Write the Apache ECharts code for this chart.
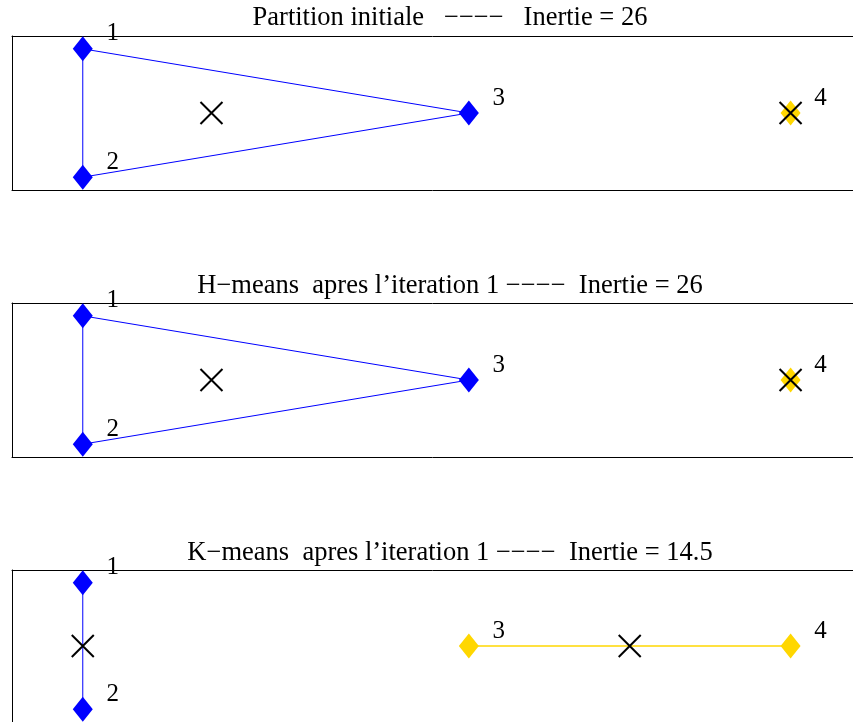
<!DOCTYPE html>
<html>
<head>
<meta charset="utf-8">
<script src="https://cdn.jsdelivr.net/npm/echarts@6/dist/echarts.min.js"></script>
<style>
html,body{margin:0;padding:0;background:#fff;}
#chart{width:853px;height:722px;}
</style>
</head>
<body>
<div id="chart"></div>
<script>
// ---- data ----
const pointX = [0, 0, 6, 11];
const pointY = [1, -1, 0, 0];
const pointLabels = ['1', '2', '3', '4'];
const panelTitles = [
  'Partition initiale\u00A0\u00A0\u00A0\u2212\u2212\u2212\u2212\u00A0\u00A0\u00A0Inertie = 26',
  'H\u2212means\u00A0\u00A0apres l\u2019iteration 1 \u2212\u2212\u2212\u2212\u00A0\u00A0Inertie = 26',
  'K\u2212means\u00A0\u00A0apres l\u2019iteration 1 \u2212\u2212\u2212\u2212\u00A0\u00A0Inertie = 14.5'
];
// cluster index of each point, per panel
const panelClusters = [
  [0, 0, 0, 1],
  [0, 0, 0, 1],
  [0, 0, 1, 1]
];
// edges (point indices) drawn per panel
const panelEdges = [
  [[0, 2], [2, 1], [1, 0]],
  [[0, 2], [2, 1], [1, 0]],
  [[0, 1], [2, 3]]
];
// centroids per panel
const centroidX = [[2, 11], [2, 11], [0, 8.5]];
const centroidY = [[0, 0], [0, 0], [0, 0]];
const clusterColors = ['#0000FF', '#FFD700'];

// ---- layout ----
const gridTops = [36, 303, 570];
const gridHeight = 154;
const titleY = [18, 286, 553];
const font = '"Liberation Serif", "Times New Roman", serif';
const xMin = -1.1, xMax = 11.97, yMin = -1.2, yMax = 1.2;

const hiddenParts = {axisTick: {show: false}, axisLabel: {show: false}, splitLine: {show: false}};
const border = {show: true, onZero: false, lineStyle: {color: '#000', width: 1}};

const grids = [], xAxes = [], yAxes = [], series = [], graphics = [];
gridTops.forEach((top, p) => {
  grids.push({left: 12, right: 0, top: top, height: gridHeight, show: false});
  xAxes.push(Object.assign({type: 'value', gridIndex: p, min: xMin, max: xMax, position: 'bottom', axisLine: border}, hiddenParts));
  xAxes.push(Object.assign({type: 'value', gridIndex: p, min: xMin, max: xMax, position: 'top', axisLine: border}, hiddenParts));
  yAxes.push(Object.assign({type: 'value', gridIndex: p, min: yMin, max: yMax, position: 'left', axisLine: border}, hiddenParts));
  graphics.push({type: 'text', x: 450, y: titleY[p],
    style: {text: panelTitles[p], font: '26.5px ' + font, fill: '#000',
      align: 'center', verticalAlign: 'middle', textAlign: 'center', textVerticalAlign: 'middle'}});
  const xi = 2 * p;
  panelEdges[p].forEach(e => {
    const c = panelClusters[p][e[0]];
    series.push({type: 'line', xAxisIndex: xi, yAxisIndex: p, symbol: 'none', silent: true,
      animation: false, z: 2,
      lineStyle: {color: clusterColors[c], width: c === 1 ? 1.5 : 1, opacity: 1},
      data: [[pointX[e[0]], pointY[e[0]]], [pointX[e[1]], pointY[e[1]]]]});
  });
  series.push({type: 'scatter', xAxisIndex: xi, yAxisIndex: p, symbol: 'diamond',
    symbolSize: [20, 25], animation: false, z: 3, clip: false,
    data: pointX.map((x, i) => ({
      value: [x, pointY[i]], name: pointLabels[i],
      itemStyle: {color: clusterColors[panelClusters[p][i]], opacity: 1}
    })),
    label: {show: true, formatter: '{b}', position: 'inside', offset: [30, -15],
      fontFamily: font, fontSize: 25, color: '#000'}
  });
  series.push({type: 'scatter', xAxisIndex: xi, yAxisIndex: p,
    symbol: 'path://M0,0L10,10M10,0L0,10', symbolSize: 22, animation: false, z: 4, clip: false,
    itemStyle: {color: 'none', borderColor: '#000', borderWidth: 2, opacity: 1},
    data: centroidX[p].map((x, k) => [x, centroidY[p][k]])
  });
});

const chart = echarts.init(document.getElementById('chart'), null, {renderer: 'canvas'});
chart.setOption({
  animation: false,
  backgroundColor: '#fff',
  grid: grids, xAxis: xAxes, yAxis: yAxes, series: series, graphic: graphics
});
</script>
</body>
</html>
